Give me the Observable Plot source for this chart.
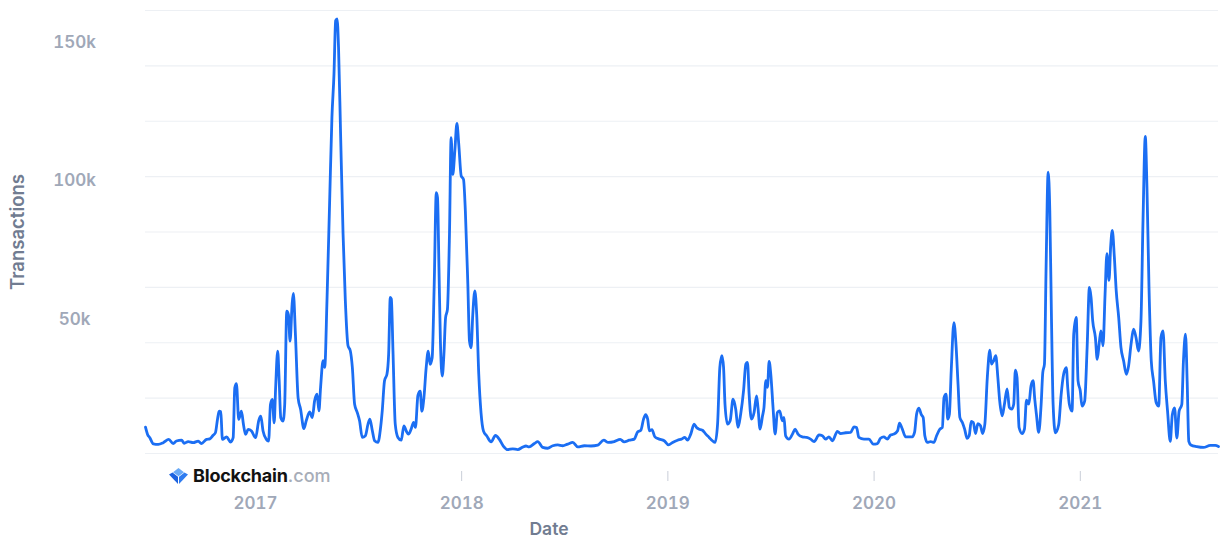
<!DOCTYPE html>
<html>
<head>
<meta charset="utf-8">
<script src="https://cdn.jsdelivr.net/npm/d3@7"></script>
<script src="https://cdn.jsdelivr.net/npm/@observablehq/plot@0.6"></script>
<style>
  html, body { margin: 0; padding: 0; background: #ffffff; }
  #wrap { position: relative; width: 1222px; height: 540px; font-family: Inter, "Noto Sans", sans-serif; }
  #logo { position: absolute; left: 166px; top: 465px; display: flex; align-items: center; background: #fff; padding: 0 3px; }
  #logo .b { font-weight: 700; font-size: 18px; color: #121212; letter-spacing: -0.2px; margin-left: 5px; }
  #logo .c { font-weight: 500; font-size: 18px; color: #a7adb8; }
</style>
</head>
<body>
<div id="wrap">
  <div id="chart"></div>
  <div id="logo">
    <svg width="19" height="16" viewBox="0 0 19 16">
      <path d="M9.5 0 L15 4.2 L9.5 8.2 L4 4.2 Z" fill="#6aaaf7"/>
      <path d="M0 6.5 L3.5 4.6 L9 8.8 L9 16 Z" fill="#1d63e0"/>
      <path d="M19 6.5 L15.5 4.6 L10 8.8 L10 16 Z" fill="#2f7cf0"/>
    </svg>
    <span class="b">Blockchain</span><span class="c">.com</span>
  </div>
</div>
<script>
// time as decimal year, transactions in thousands
const dates = [
  2016.467, 2016.477, 2016.488, 2016.505, 2016.529, 2016.553, 2016.580, 2016.601, 2016.617, 2016.642,
  2016.655, 2016.674, 2016.698, 2016.723, 2016.738, 2016.763, 2016.779, 2016.795, 2016.806, 2016.816,
  2016.824, 2016.832, 2016.840, 2016.860, 2016.880, 2016.892, 2016.900, 2016.908, 2016.919, 2016.932,
  2016.942, 2016.952, 2016.965, 2016.981, 2017.001, 2017.016, 2017.026, 2017.037, 2017.053, 2017.064,
  2017.073, 2017.082, 2017.091, 2017.098, 2017.108, 2017.115, 2017.123, 2017.134, 2017.142, 2017.152,
  2017.160, 2017.168, 2017.178, 2017.184, 2017.194, 2017.207, 2017.219, 2017.235, 2017.247, 2017.263,
  2017.276, 2017.287, 2017.299, 2017.308, 2017.316, 2017.328, 2017.336, 2017.347, 2017.360, 2017.371,
  2017.381, 2017.389, 2017.396, 2017.403, 2017.413, 2017.425, 2017.436, 2017.449, 2017.460, 2017.470,
  2017.481, 2017.494, 2017.505, 2017.518, 2017.533, 2017.546, 2017.555, 2017.567, 2017.578, 2017.594,
  2017.607, 2017.615, 2017.626, 2017.638, 2017.646, 2017.654, 2017.659, 2017.667, 2017.678, 2017.691,
  2017.707, 2017.720, 2017.731, 2017.742, 2017.755, 2017.767, 2017.776, 2017.788, 2017.799, 2017.807,
  2017.817, 2017.828, 2017.838, 2017.847, 2017.857, 2017.867, 2017.877, 2017.883, 2017.890, 2017.897,
  2017.906, 2017.914, 2017.922, 2017.931, 2017.941, 2017.949, 2017.957, 2017.967, 2017.977, 2017.986,
  2017.998, 2018.009, 2018.018, 2018.030, 2018.038, 2018.046, 2018.054, 2018.064, 2018.073, 2018.083,
  2018.094, 2018.106, 2018.122, 2018.143, 2018.164, 2018.183, 2018.202, 2018.224, 2018.248, 2018.272,
  2018.296, 2018.312, 2018.327, 2018.353, 2018.369, 2018.393, 2018.417, 2018.442, 2018.466, 2018.490,
  2018.514, 2018.539, 2018.563, 2018.595, 2018.627, 2018.660, 2018.689, 2018.711, 2018.740, 2018.769,
  2018.788, 2018.813, 2018.837, 2018.853, 2018.869, 2018.882, 2018.892, 2018.902, 2018.910, 2018.923,
  2018.937, 2018.958, 2018.982, 2019.003, 2019.023, 2019.047, 2019.066, 2019.082, 2019.095, 2019.111,
  2019.127, 2019.139, 2019.152, 2019.168, 2019.184, 2019.200, 2019.216, 2019.229, 2019.241, 2019.252,
  2019.262, 2019.270, 2019.277, 2019.289, 2019.302, 2019.316, 2019.329, 2019.340, 2019.353, 2019.367,
  2019.378, 2019.386, 2019.394, 2019.405, 2019.418, 2019.430, 2019.437, 2019.447, 2019.459, 2019.466,
  2019.475, 2019.483, 2019.491, 2019.499, 2019.510, 2019.520, 2019.531, 2019.542, 2019.555, 2019.563,
  2019.571, 2019.587, 2019.604, 2019.617, 2019.631, 2019.652, 2019.673, 2019.692, 2019.709, 2019.733,
  2019.749, 2019.765, 2019.781, 2019.798, 2019.822, 2019.838, 2019.862, 2019.886, 2019.902, 2019.915,
  2019.926, 2019.951, 2019.975, 2019.996, 2020.016, 2020.031, 2020.047, 2020.064, 2020.080, 2020.096,
  2020.114, 2020.123, 2020.136, 2020.153, 2020.168, 2020.185, 2020.196, 2020.206, 2020.217, 2020.229,
  2020.238, 2020.246, 2020.258, 2020.274, 2020.290, 2020.303, 2020.319, 2020.331, 2020.339, 2020.349,
  2020.357, 2020.365, 2020.374, 2020.387, 2020.397, 2020.407, 2020.416, 2020.428, 2020.439, 2020.451,
  2020.461, 2020.471, 2020.481, 2020.492, 2020.503, 2020.516, 2020.526, 2020.537, 2020.549, 2020.561,
  2020.569, 2020.580, 2020.590, 2020.600, 2020.609, 2020.621, 2020.632, 2020.645, 2020.656, 2020.667,
  2020.677, 2020.685, 2020.693, 2020.703, 2020.718, 2020.729, 2020.739, 2020.750, 2020.761, 2020.771,
  2020.779, 2020.787, 2020.798, 2020.810, 2020.818, 2020.826, 2020.834, 2020.844, 2020.852, 2020.860,
  2020.868, 2020.879, 2020.895, 2020.907, 2020.919, 2020.932, 2020.939, 2020.947, 2020.960, 2020.968,
  2020.980, 2020.989, 2021.000, 2021.008, 2021.021, 2021.033, 2021.044, 2021.052, 2021.060, 2021.073,
  2021.082, 2021.092, 2021.100, 2021.110, 2021.120, 2021.129, 2021.139, 2021.147, 2021.155, 2021.165,
  2021.174, 2021.186, 2021.197, 2021.210, 2021.223, 2021.234, 2021.246, 2021.258, 2021.270, 2021.282,
  2021.294, 2021.304, 2021.315, 2021.323, 2021.333, 2021.344, 2021.355, 2021.368, 2021.380, 2021.391,
  2021.401, 2021.412, 2021.423, 2021.436, 2021.446, 2021.457, 2021.468, 2021.479, 2021.492, 2021.500,
  2021.510, 2021.518, 2021.526, 2021.536, 2021.565, 2021.597, 2021.630, 2021.654, 2021.670
];
const txK = [
  9.5, 6.9, 5.7, 3.5, 3.3, 3.9, 5.1, 3.6, 4.5, 4.8,
  3.7, 4.3, 3.9, 4.5, 3.6, 5.1, 5.3, 6.6, 7.5, 12.3,
  15.3, 15.1, 5.1, 6.0, 4.1, 5.7, 23.7, 25.2, 12.3, 15.3,
  10.5, 6.9, 8.7, 8.1, 5.7, 11.9, 13.5, 8.1, 5.1, 4.5,
  17.7, 19.5, 11.1, 23.7, 37.0, 26.7, 12.9, 11.7, 17.7, 51.4,
  50.2, 40.6, 53.9, 57.8, 43.0, 20.1, 16.0, 9.0, 12.0, 15.0,
  13.0, 19.0, 21.4, 15.4, 23.9, 33.5, 31.1, 55.2, 91.3, 121.4,
  137.1, 156.4, 157.0, 146.7, 115.4, 79.3, 55.2, 38.9, 37.1, 31.1,
  17.8, 14.8, 11.8, 5.8, 6.4, 10.6, 12.4, 8.2, 4.6, 4.0,
  9.4, 15.4, 26.3, 28.7, 35.9, 56.4, 55.8, 37.1, 10.6, 5.8,
  4.8, 10.0, 8.2, 7.0, 8.8, 11.2, 9.4, 21.0, 22.5, 15.3,
  20.1, 31.0, 37.0, 32.2, 34.6, 61.1, 94.2, 92.4, 67.1, 40.6,
  28.0, 35.8, 49.0, 52.0, 79.2, 114.1, 100.8, 109.3, 119.2, 111.7,
  100.2, 99.0, 87.6, 61.1, 40.6, 38.2, 50.2, 58.7, 50.2, 28.6,
  14.7, 8.1, 6.3, 4.2, 6.5, 5.1, 2.7, 1.4, 1.7, 1.4,
  2.3, 2.7, 2.4, 3.6, 4.3, 2.2, 1.9, 2.8, 3.1, 2.8,
  3.4, 4.0, 2.4, 2.8, 2.7, 3.0, 4.8, 4.0, 4.3, 5.1,
  4.2, 4.8, 5.2, 7.8, 8.4, 12.4, 14.0, 12.4, 8.2, 8.6,
  6.0, 5.2, 4.6, 3.1, 4.0, 4.8, 5.2, 5.8, 4.8, 7.0,
  10.6, 9.4, 8.8, 8.4, 7.0, 5.8, 4.6, 4.0, 10.6, 31.1,
  35.3, 31.1, 17.8, 10.6, 11.8, 19.6, 16.0, 9.4, 14.2, 22.7,
  32.3, 32.9, 21.4, 12.4, 14.8, 20.8, 16.6, 8.8, 13.6, 16.6,
  26.3, 23.9, 33.3, 28.7, 16.6, 7.0, 14.8, 15.4, 11.8, 13.0,
  6.4, 5.2, 7.0, 8.8, 7.0, 6.0, 5.8, 5.2, 4.3, 6.7,
  6.4, 5.2, 6.0, 4.6, 8.0, 7.2, 7.5, 7.6, 9.6, 9.4,
  5.8, 5.2, 5.2, 3.4, 3.6, 5.5, 6.0, 5.2, 6.7, 7.0,
  8.2, 11.0, 9.0, 6.0, 6.0, 6.0, 7.6, 14.2, 16.4, 14.0,
  13.0, 6.4, 4.0, 4.3, 4.0, 6.4, 8.8, 9.4, 20.2, 21.4,
  12.4, 14.2, 29.9, 47.3, 39.5, 25.1, 13.0, 11.2, 8.8, 5.5,
  6.4, 11.6, 11.2, 7.2, 10.8, 10.0, 7.2, 10.6, 27.5, 37.3,
  32.3, 33.5, 35.3, 27.5, 19.0, 13.6, 17.8, 23.3, 16.6, 16.0,
  17.8, 30.1, 27.5, 9.4, 7.2, 8.8, 19.3, 17.8, 24.5, 26.3,
  19.6, 14.2, 7.6, 17.8, 29.3, 32.3, 67.2, 101.6, 87.7, 49.2,
  17.8, 7.5, 10.4, 21.3, 28.6, 31.0, 23.7, 17.7, 15.3, 43.1,
  49.2, 26.2, 22.5, 17.1, 18.9, 38.3, 60.0, 56.4, 47.9, 41.9,
  34.0, 40.1, 44.3, 38.9, 57.6, 72.2, 62.5, 74.6, 80.6, 70.9,
  58.8, 49.2, 38.3, 33.4, 28.6, 31.6, 39.5, 44.9, 41.9, 37.0,
  47.9, 84.3, 114.5, 96.4, 60.0, 33.4, 26.2, 18.3, 17.1, 41.9,
  44.3, 26.2, 15.3, 4.4, 14.0, 16.5, 5.6, 15.3, 17.7, 33.4,
  43.1, 26.2, 4.4, 3.1, 2.5, 2.2, 2.9, 2.9, 2.5
];
const yearTicks = [2017, 2018, 2019, 2020, 2021];
const gridK = [0, 20, 40, 60, 80, 100, 120, 140, 160];
const labelK = [50, 100, 150];

const data = dates.map((t, i) => ({t, v: txK[i]}));

const tickColor = "#a0a8b8";
const titleColor = "#717c91";

const chart = Plot.plot({
  width: 1222,
  height: 540,
  marginLeft: 145,
  marginRight: 4,
  marginTop: 10,
  marginBottom: 87,
  style: {fontFamily: "Inter, 'Noto Sans', sans-serif", background: "#ffffff"},
  x: {type: "linear", domain: [2016.467, 2021.67]},
  y: {domain: [0, 160]},
  marks: [
    Plot.ruleY(gridK, {stroke: "#edf0f4", strokeWidth: 1.2}),
    Plot.axisY(labelK, {
      tickSize: 0, tickPadding: 71, textAnchor: "middle",
      tickFormat: d => d + "k", fontSize: 17, fontWeight: 600,
      fill: tickColor, dy: 4, label: null
    }),
    Plot.axisX(yearTicks, {
      tickSize: 10, tickPadding: 15, dy: 18, stroke: "#c9ced8",
      tickFormat: d => String(d), fontSize: 17, fontWeight: 600,
      fill: tickColor, label: null
    }),
    Plot.text(["Date"], {frameAnchor: "bottom", dx: -133, dy: 76, lineAnchor: "middle", fontSize: 17.5, fontWeight: 600, fill: titleColor}),
    Plot.text(["Transactions"], {frameAnchor: "left", textAnchor: "middle", dx: -127, rotate: -90, fontSize: 18.5, fontWeight: 600, fill: titleColor}),
    Plot.line(data, {x: "t", y: "v", stroke: "#1b6ef3", strokeWidth: 2.8, curve: "monotone-x"})
  ]
});
document.getElementById("chart").appendChild(chart);
</script>
</body>
</html>
